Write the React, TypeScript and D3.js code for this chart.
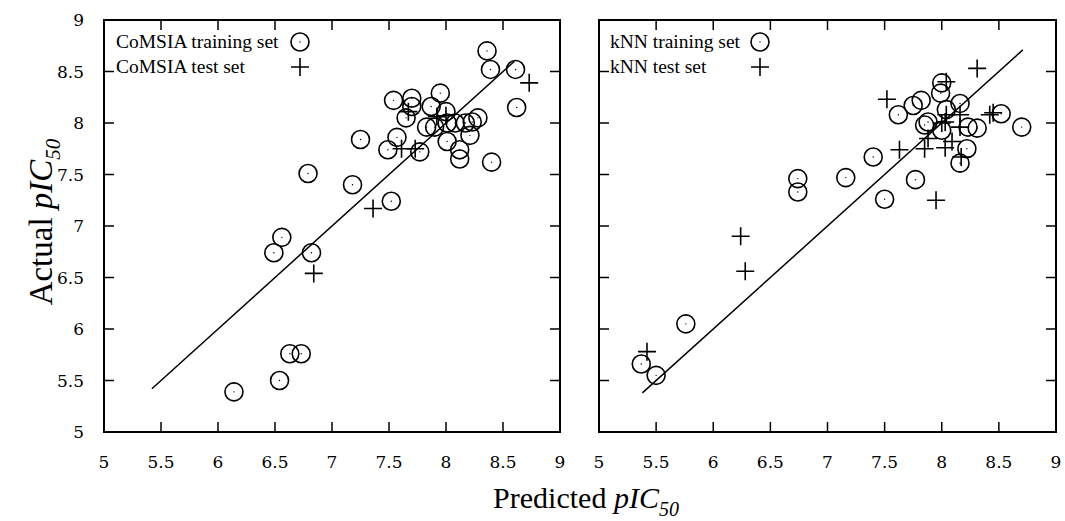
import React, { useEffect, useRef } from "react";
import * as d3 from "d3";

// CoMSIA panel (predicted, actual)
const comsiaTrainPred = [8.36, 8.39, 8.61, 8.62, 7.95, 7.54, 7.70, 7.70, 7.65, 7.87, 8.00, 7.83, 7.90, 8.01, 8.08, 8.17, 8.23, 8.28, 8.21, 8.01, 8.12, 8.12, 8.40, 7.25, 7.57, 7.49, 7.77, 6.79, 7.18, 7.52, 6.56, 6.49, 6.82, 6.63, 6.73, 6.54, 6.14];
const comsiaTrainAct = [8.70, 8.52, 8.52, 8.15, 8.29, 8.22, 8.24, 8.16, 8.05, 8.16, 8.11, 7.96, 7.96, 8.00, 8.00, 8.00, 8.01, 8.05, 7.88, 7.82, 7.74, 7.65, 7.62, 7.84, 7.86, 7.74, 7.72, 7.51, 7.40, 7.24, 6.89, 6.74, 6.74, 5.76, 5.76, 5.50, 5.39];
const comsiaTestPred = [8.73, 7.67, 7.92, 8.00, 7.61, 7.73, 7.36, 6.84];
const comsiaTestAct = [8.39, 8.11, 8.06, 8.07, 7.75, 7.75, 7.17, 6.54];

// kNN panel (predicted, actual)
const knnTrainPred = [8.00, 7.99, 7.82, 7.75, 7.62, 8.16, 8.04, 8.52, 8.70, 8.31, 8.23, 7.88, 7.85, 8.00, 8.22, 8.16, 7.40, 7.16, 7.77, 6.74, 6.74, 7.50, 5.76, 5.37, 5.50];
const knnTrainAct = [8.39, 8.29, 8.22, 8.17, 8.08, 8.19, 8.13, 8.09, 7.96, 7.95, 7.96, 8.01, 7.98, 7.93, 7.75, 7.61, 7.67, 7.47, 7.45, 7.46, 7.33, 7.26, 6.05, 5.66, 5.55];
const knnTestPred = [8.31, 8.04, 7.52, 8.04, 8.03, 8.00, 8.16, 8.16, 8.42, 8.45, 7.88, 7.85, 8.03, 8.09, 7.63, 8.17, 7.95, 6.24, 6.28, 5.42];
const knnTestAct = [8.53, 8.40, 8.23, 8.08, 8.01, 8.00, 8.08, 7.96, 8.08, 8.10, 7.85, 7.75, 7.76, 7.82, 7.74, 7.67, 7.25, 6.90, 6.56, 5.78];

const tickValues = [5, 5.5, 6, 6.5, 7, 7.5, 8, 8.5, 9];
const comsiaFit = [5.42, 8.6];
const knnFit = [5.38, 8.71];

const panels = [
  { left: 104, right: 560, trainLabel: "CoMSIA training set", testLabel: "CoMSIA test set", trainX: comsiaTrainPred, trainY: comsiaTrainAct, testX: comsiaTestPred, testY: comsiaTestAct, fit: comsiaFit, yLabels: true, legendX: 116, symX: 300 },
  { left: 599, right: 1056, trainLabel: "kNN training set", testLabel: "kNN test set", trainX: knnTrainPred, trainY: knnTrainAct, testX: knnTestPred, testY: knnTestAct, fit: knnFit, yLabels: false, legendX: 610, symX: 760 },
];

export default function App() {
  const ref = useRef<SVGSVGElement>(null);

  useEffect(() => {
    const svg = d3.select(ref.current);
    svg.selectAll("*").remove();

    const top = 20;
    const bottom = 432;
    const tickLen = 10;
    const yScale = d3.scaleLinear().domain([5, 9]).range([bottom, top]);

    panels.forEach(p => {
      const xScale = d3.scaleLinear().domain([5, 9]).range([p.left, p.right]);
      const g = svg.append("g");

      // ticks on all four sides, pointing inward
      tickValues.forEach(v => {
        const x = xScale(v);
        const y = yScale(v);
        g.append("line").attr("x1", x).attr("x2", x).attr("y1", bottom).attr("y2", bottom - tickLen);
        g.append("line").attr("x1", x).attr("x2", x).attr("y1", top).attr("y2", top + tickLen);
        g.append("line").attr("x1", p.left).attr("x2", p.left + tickLen).attr("y1", y).attr("y2", y);
        g.append("line").attr("x1", p.right).attr("x2", p.right - tickLen).attr("y1", y).attr("y2", y);

        g.append("text")
          .attr("x", x)
          .attr("y", 468)
          .attr("text-anchor", "middle")
          .attr("font-family", "DejaVu Serif")
          .attr("font-size", 17)
          .text(v);

        if (p.yLabels) {
          g.append("text")
            .attr("x", 84)
            .attr("y", y + 6)
            .attr("text-anchor", "end")
            .attr("font-family", "DejaVu Serif")
            .attr("font-size", 17)
            .text(v);
        }
      });
      g.selectAll("line").attr("stroke", "#000").attr("stroke-width", 1.5);

      g.append("rect")
        .attr("x", p.left)
        .attr("y", top)
        .attr("width", p.right - p.left)
        .attr("height", bottom - top)
        .attr("fill", "none")
        .attr("stroke", "#000")
        .attr("stroke-width", 2);

      // fitted line
      g.append("line")
        .attr("x1", xScale(p.fit[0]))
        .attr("y1", yScale(p.fit[0]))
        .attr("x2", xScale(p.fit[1]))
        .attr("y2", yScale(p.fit[1]))
        .attr("stroke", "#000")
        .attr("stroke-width", 1.5);

      const circle = (cx: number, cy: number) => {
        g.append("circle").attr("cx", cx).attr("cy", cy).attr("r", 9)
          .attr("fill", "none").attr("stroke", "#000").attr("stroke-width", 1.6);
        g.append("circle").attr("cx", cx).attr("cy", cy).attr("r", 0.7).attr("fill", "#000");
      };
      const cross = (cx: number, cy: number) => {
        g.append("path")
          .attr("d", `M${cx - 9},${cy}H${cx + 9}M${cx},${cy - 9}V${cy + 9}`)
          .attr("stroke", "#000").attr("stroke-width", 1.6);
      };

      p.trainX.forEach((d, i) => circle(xScale(d), yScale(p.trainY[i])));
      p.testX.forEach((d, i) => cross(xScale(d), yScale(p.testY[i])));

      // legend
      g.append("text").attr("x", p.legendX).attr("y", 48)
        .attr("font-family", "Liberation Serif").attr("font-size", 19.5).text(p.trainLabel);
      g.append("text").attr("x", p.legendX).attr("y", 73)
        .attr("font-family", "Liberation Serif").attr("font-size", 19.5).text(p.testLabel);
      circle(p.symX, 42);
      cross(p.symX, 67);
    });

    // axis titles
    const yTitle = svg.append("text")
      .attr("transform", "translate(52, 222) rotate(-90)")
      .attr("text-anchor", "middle")
      .attr("font-family", "Liberation Serif")
      .attr("font-size", 33);
    yTitle.append("tspan").text("Actual ");
    yTitle.append("tspan").attr("font-style", "italic").text("pIC");
    yTitle.append("tspan").attr("font-style", "italic").attr("font-size", 21).attr("dy", 8).text("50");

    const xTitle = svg.append("text")
      .attr("x", 586)
      .attr("y", 508)
      .attr("text-anchor", "middle")
      .attr("font-family", "Liberation Serif")
      .attr("font-size", 30);
    xTitle.append("tspan").text("Predicted ");
    xTitle.append("tspan").attr("font-style", "italic").text("pIC");
    xTitle.append("tspan").attr("font-style", "italic").attr("font-size", 20).attr("dy", 8).text("50");
  }, []);

  return (
    <svg
      ref={ref}
      width={1065}
      height={521}
      style={{ position: "absolute", left: 0, top: 0, background: "#fff" }}
    />
  );
}
